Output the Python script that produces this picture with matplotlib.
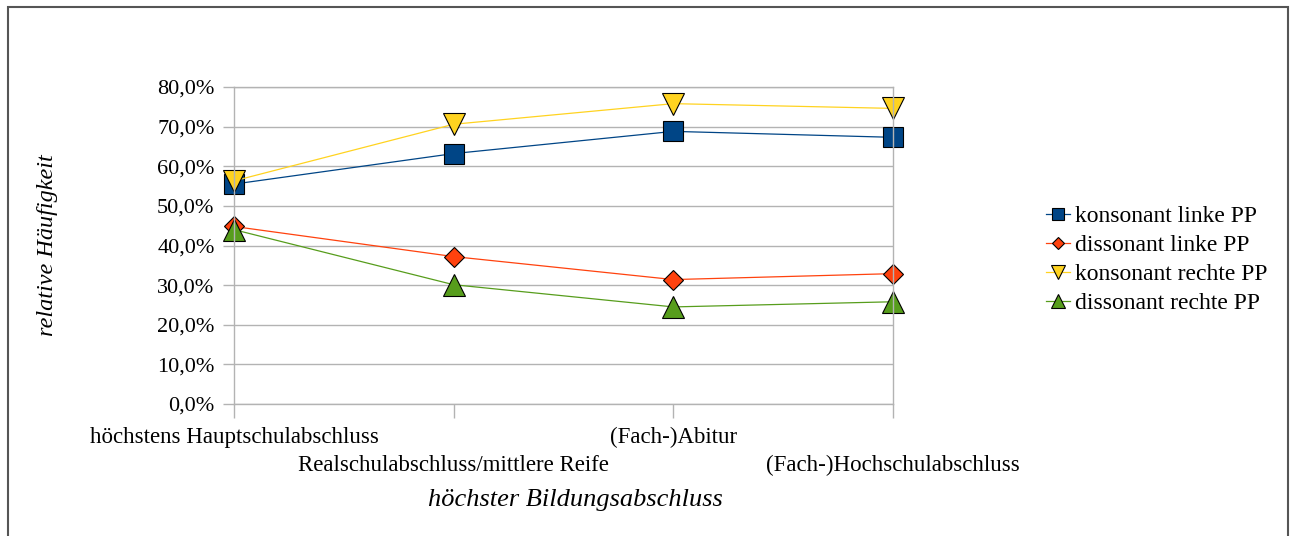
import matplotlib
matplotlib.use('Agg')
import matplotlib.pyplot as plt
from matplotlib.patches import Rectangle
from matplotlib.ticker import FuncFormatter

plt.rcParams['font.family'] = ['Liberation Serif', 'DejaVu Serif']

kategorien = ['höchstens Hauptschulabschluss', 'Realschulabschluss/mittlere Reife',
              '(Fach-)Abitur', '(Fach-)Hochschulabschluss']
kons_links = [55.5, 63.2, 68.8, 67.3]
diss_links = [44.8, 37.2, 31.4, 32.9]
kons_rechts = [56.3, 70.6, 75.8, 74.6]
diss_rechts = [44.0, 30.1, 24.5, 25.8]

fig = plt.figure(figsize=(12.93, 5.36), dpi=100)
ax = fig.add_axes([234/1293, 1-404/536, (893-234)/1293, (404-87)/536])

x = list(range(len(kategorien)))
ax.plot(x, kons_links, color='#004586', lw=0.9, marker='s', ms=14,
        mfc='#004586', mec='black', mew=0.8, label='konsonant linke PP', clip_on=False)
ax.plot(x, diss_links, color='#ff420e', lw=0.9, marker='D', ms=10,
        mfc='#ff420e', mec='black', mew=0.8, label='dissonant linke PP', clip_on=False)
ax.plot(x, kons_rechts, color='#ffd320', lw=0.9, marker='v', ms=16,
        mfc='#ffd320', mec='black', mew=0.8, label='konsonant rechte PP', clip_on=False)
ax.plot(x, diss_rechts, color='#579d1c', lw=0.9, marker='^', ms=16,
        mfc='#579d1c', mec='black', mew=0.8, label='dissonant rechte PP', clip_on=False)

ax.set_xlim(0, 3)
ax.set_ylim(0, 80)
ax.set_yticks(range(0, 81, 10))
ax.yaxis.set_major_formatter(FuncFormatter(lambda v, p: f'{v:.1f}%'.replace('.', ',')))
ax.set_xticks(x)
ax.set_xticklabels(['', '', '', ''])
for i, lab in enumerate(kategorien):
    yoff = -0.105 if i % 2 == 0 else -0.195
    ax.text(i, yoff, lab, transform=ax.get_xaxis_transform(), ha='center', va='center',
            fontsize=16.5, clip_on=False)

ax.grid(axis='y', color='#b3b3b3', lw=1)
ax.set_axisbelow(True)
for s in ax.spines.values():
    s.set_color('#b3b3b3')
    s.set_linewidth(1)
ax.tick_params(axis='x', length=10, color='#b3b3b3', width=1)
ax.tick_params(axis='y', length=8, color='#b3b3b3', width=1, labelsize=16, pad=6)

fig.text(575/1293, 1-500/536, 'höchster Bildungsabschluss', ha='center', va='center',
         fontsize=19, style='italic')
fig.text(48/1293, 1-245/536, 'relative Häufigkeit', ha='center', va='center',
         fontsize=17.5, style='italic', rotation=90)

ax.legend(loc='center left', bbox_to_anchor=(1025/1293, 1-260/536),
          bbox_transform=fig.transFigure, frameon=False, fontsize=17,
          handlelength=1.0, handletextpad=0.2, labelspacing=0.32, markerscale=0.65)

fig.add_artist(Rectangle((8/1293, -0.05), (1288-8)/1293, 1-7/536+0.05,
                         transform=fig.transFigure, fill=False, ec='#555555', lw=1.5))

fig.savefig('out.png', dpi=100)
